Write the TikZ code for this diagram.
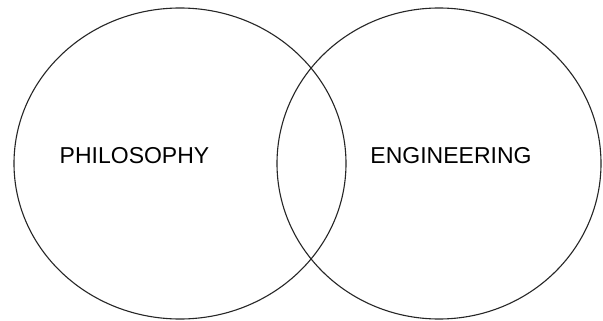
\documentclass[tikz,border=0pt]{standalone}
\usepackage{fontspec}
\setmainfont{Liberation Sans}
\begin{document}
\begin{tikzpicture}[x=1pt,y=-1pt,
  setcircle/.style={draw=black!85,line width=1.1pt},
  setlabel/.style={font=\fontsize{23}{26}\selectfont,text=black,inner sep=0pt}]
\useasboundingbox (0,0) rectangle (603,321);
\fill[white] (0,0) rectangle (603,321);
\draw[setcircle] (180,163.5) ellipse [x radius=166, y radius=155.5];
\draw[setcircle] (439,163.5) ellipse [x radius=162, y radius=155.5];
\node[setlabel] (phil) at (134.5,156) {PHILOSOPHY};
\node[setlabel] (eng) at (451,156) {ENGINEERING};
\end{tikzpicture}
\end{document}
